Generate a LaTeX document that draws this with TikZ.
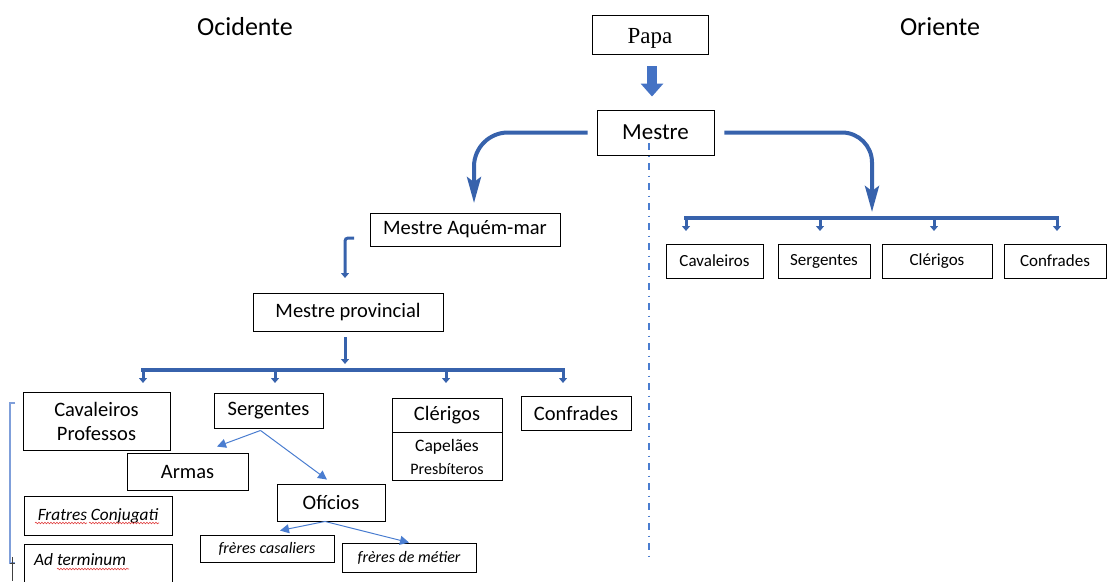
\documentclass[tikz,border=0pt]{standalone}
\usepackage{fontspec}
\setmainfont{Carlito}
\newfontfamily\papafont{Liberation Serif}
\usetikzlibrary{arrows.meta,decorations.pathmorphing}
\definecolor{darkblue}{HTML}{3762AC}
\definecolor{midblue}{HTML}{4472C4}
\definecolor{lightblue}{HTML}{4A7DD0}
\definecolor{bracketblue}{HTML}{7F9FDA}
\definecolor{spellred}{HTML}{E04040}
\begin{document}
\begin{tikzpicture}[x=1pt,y=-1pt,
  box/.style={draw=black, line width=0.9pt, inner sep=0pt, align=center, font=\fontsize{20.5}{24}\selectfont},
  rbox/.style={box, font=\fontsize{17}{20}\selectfont},
  ibox/.style={box, font=\fontsize{17.3}{20}\selectfont\itshape},
  fbox/.style={box, font=\fontsize{16}{19}\selectfont\itshape},
  title/.style={font=\fontsize{26}{30}\selectfont},
  bigarrow/.style={draw=darkblue, line width=4pt, line join=round, -{Stealth[length=26pt,width=14pt,inset=5pt]}},
  barline/.style={draw=darkblue, line width=3.5pt},
  tickarrow/.style={draw=darkblue, line width=3pt, -{Triangle[width=8pt,length=5pt]}},
  thinarrow/.style={draw=lightblue, line width=1pt, -{Triangle[width=9pt,length=9pt]}},
  spell/.style={draw=spellred, line width=0.6pt, decorate, decoration={snake, amplitude=0.8pt, segment length=3pt}}
]
\useasboundingbox (0,0) rectangle (1107,581);
\clip (0,0) rectangle (1107,581);

% titles
\node[title] (ocidente) at (245,27) {Ocidente};
\node[title] (oriente) at (940,27) {Oriente};

% top
\node[box, font=\fontsize{23}{26}\selectfont\papafont, minimum width=116pt, minimum height=39pt] (papa) at (650,34.5) {\raisebox{-4pt}[\height][\depth]{Papa}};
\node[box, font=\fontsize{23}{26}\selectfont, minimum width=117pt, minimum height=45pt] (mestre) at (655.5,132.5) {Mestre};

\draw[draw=midblue, line width=10pt, -{Triangle[width=22pt,length=13pt]}, shorten <=12pt, shorten >=13pt]
  ([xshift=2pt]papa.south) -- ([xshift=2pt]papa.south |- mestre.north);

% divider
\coordinate (divtop) at (649,143);
\coordinate (divbot) at (649,562);
\draw[draw=lightblue, line width=1.5pt, dash pattern=on 6.5pt off 6pt on 1.5pt off 6pt] (divtop) -- (divbot);

% left (Ocidente)
\node[box, minimum width=190pt, minimum height=33pt] (aquem) at (465,229.5) {Mestre Aquém-mar};
\node[box, minimum width=190pt, minimum height=38pt] (prov) at (348,312) {Mestre provincial};

\coordinate (aqtip) at (474,203);
\draw[bigarrow, rounded corners=34pt] ([xshift=-9pt]mestre.west) -| (aqtip);

\coordinate (aqbr) at (354,238);
\coordinate (provtip) at (345,278);
\draw[draw=darkblue, line width=3pt, rounded corners=3pt, -{Triangle[width=8pt,length=5pt]}] (aqbr) -| (provtip);

\coordinate (lbarmid) at (345,364);
\draw[tickarrow] ([xshift=-3pt,yshift=-6pt]prov.south) -- (lbarmid);

\coordinate (lb1) at (143,370);
\coordinate (lb2) at (275,370);
\coordinate (lb3) at (446,370);
\coordinate (lb4) at (563,370);
\draw[barline] ([xshift=-1.7pt]lb1) -- ([xshift=1.7pt]lb4);
\foreach \c in {lb1,lb2,lb3,lb4} \draw[tickarrow] (\c) -- ++(0,13);

\node[box, minimum width=147pt, minimum height=58pt] (cavp) at (96.5,421) {Cavaleiros\\Professos};
\node[box, minimum width=109pt, minimum height=35pt] (serg) at (268.5,410.5) {Sergentes};
\node[box, minimum width=110pt, minimum height=34pt] (cler) at (447,415) {Clérigos};
\node[box, minimum width=110pt, minimum height=48pt, anchor=north] (cap) at (cler.south) {\fontsize{17.5}{19}\selectfont Capelães\\[-1pt]\fontsize{16}{18}\selectfont Presbíteros};
\node[box, minimum width=110pt, minimum height=34pt] (conf) at (576,413) {Confrades};
\node[box, minimum width=121pt, minimum height=37pt] (armas) at (187.5,471.5) {Armas};
\node[box, minimum width=108pt, minimum height=37pt] (ofi) at (331,502.5) {Ofícios};
\node[ibox, minimum width=148pt, minimum height=39pt] (fratres) at (98,515.5) {Fratres Conjugati};
\node[ibox, minimum width=148pt, minimum height=60pt, anchor=north west] (ad) at (24,544) {};
\node[font=\fontsize{17.3}{20}\selectfont\itshape, anchor=west, inner sep=0pt] (adtext) at (34,560) {Ad terminum};
\node[fbox, minimum width=134pt, minimum height=27pt] (cas) at (267,548.5) {frères casaliers};
\node[fbox, minimum width=134pt, minimum height=29pt] (met) at (409,557.5) {frères de métier};

\draw[thinarrow] ([xshift=-8pt,yshift=-2pt]serg.south) -- ([xshift=29.5pt,yshift=6pt]armas.north);
\draw[thinarrow] ([xshift=-8pt,yshift=-2pt]serg.south) -- ([xshift=-4pt,yshift=4pt]ofi.north);
\draw[thinarrow] ([xshift=-6pt]ofi.south) -- ([xshift=13pt,yshift=4pt]cas.north);
\draw[thinarrow] ([xshift=-6pt]ofi.south) -- (met.north);

% spelling marks
\draw[spell] (35,523) -- (87,523);
\draw[spell] (89,523) -- (159,523);
\draw[spell] (57,569) -- (129,569);

% left bracket
\coordinate (brtop) at (15,403);
\coordinate (brbot) at (15,563);
\draw[draw=bracketblue, line width=1.3pt] (brtop) -- (10,403) -- (10,563) -- (brbot);
\draw[draw=black!75, line width=0.9pt] (12.3,557) -- (12.3,581);
\draw[draw=black!75, line width=0.9pt] (10,563) -- (15,563);

% right (Oriente)
\coordinate (ortip) at (872,212);
\draw[bigarrow, rounded corners=30pt] ([xshift=10pt]mestre.east) -| (ortip);

\coordinate (rb1) at (686,218);
\coordinate (rb2) at (820,218);
\coordinate (rb3) at (934,218);
\coordinate (rb4) at (1057,218);
\draw[barline] ([xshift=-1.7pt]rb1) -- ([xshift=1.7pt]rb4);
\foreach \c in {rb1,rb2,rb3,rb4} \draw[tickarrow] (\c) -- ++(0,13);

\node[rbox, minimum width=97pt, minimum height=34pt] (rcav) at (714.5,261) {Cavaleiros};
\node[rbox, minimum width=92pt, minimum height=34pt] (rserg) at (824,261) {Sergentes};
\node[rbox, minimum width=110pt, minimum height=34pt] (rcler) at (937,261) {Clérigos};
\node[rbox, minimum width=102pt, minimum height=34pt] (rconf) at (1055,261) {Confrades};
\end{tikzpicture}
\end{document}
